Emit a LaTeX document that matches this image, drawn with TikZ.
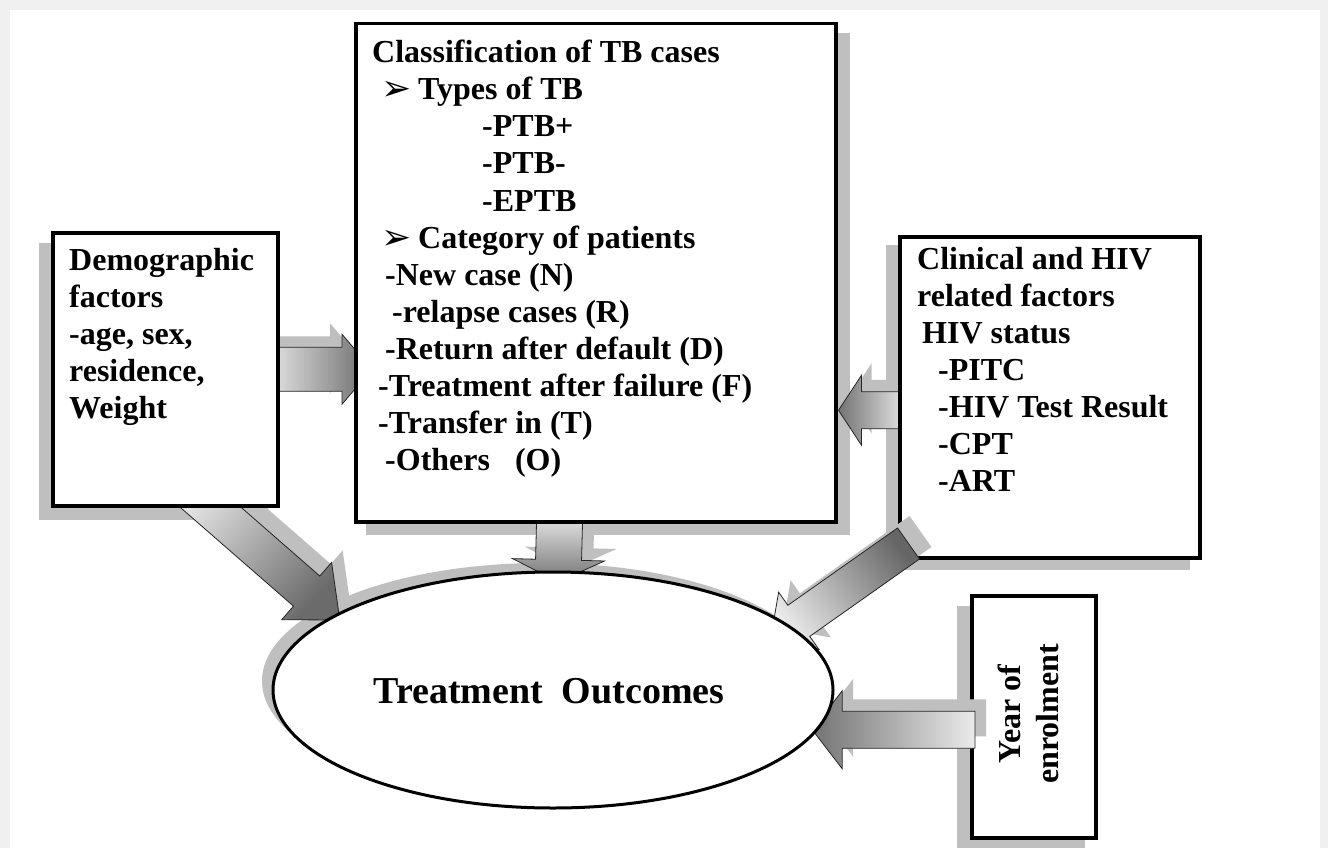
\documentclass[tikz,border=0pt]{standalone}
\usepackage{fontspec}
\setmainfont{Liberation Serif}
\newfontfamily\dejavu{DejaVu Sans}
\usetikzlibrary{calc,shapes.geometric}
\colorlet{shadowc}{black!25}
\tikzset{
  box/.style={draw=black, line width=3.5pt, fill=white, anchor=north west, inner sep=0pt},
  txt/.style={anchor=base west, inner sep=0pt, font=\bfseries\fontsize{32}{37}\selectfont},
  bul/.style={anchor=base west, inner sep=0pt, font=\dejavu\bfseries\fontsize{36}{38}\selectfont},
  arrowline/.style={draw=black!85, line width=0.8pt},
}
% #1 start, #2 tip, #3 half shaft, #4 half head, #5 head length, #6 shadow offset, #7 shading
\newcommand\blockarrow[7]{%
  \coordinate (bas) at ($(#1)+(#6)$);
  \coordinate (bae) at ($(#2)+(#6)$);
  \coordinate (bac) at ($(bae)!#5!(bas)$);
  \fill[shadowc] ($(bas)!#3!90:(bae)$) -- ($(bac)!#3!-90:(bas)$) -- ($(bac)!#4!-90:(bas)$) -- (bae) -- ($(bac)!#4!90:(bas)$) -- ($(bac)!#3!90:(bas)$) -- ($(bas)!#3!-90:(bae)$) -- cycle;
  \coordinate (bac) at ($(#2)!#5!(#1)$);
  \shadedraw[arrowline, #7] ($(#1)!#3!90:(#2)$) -- ($(bac)!#3!-90:(#1)$) -- ($(bac)!#4!-90:(#1)$) -- (#2) -- ($(bac)!#4!90:(#1)$) -- ($(bac)!#3!90:(#1)$) -- ($(#1)!#3!-90:(#2)$) -- cycle;
}
\begin{document}
\begin{tikzpicture}[x=1pt, y=-1pt]
\useasboundingbox (0,0) rectangle (1328,848);
\fill[black!6] (0,0) rectangle (1328,848);
\fill[white] (10,10) rectangle (1320,848);

% invisible geometry nodes first (to compute positions)
\path (354,22) node[box, draw=none, fill=none, minimum width=480pt, minimum height=498pt] (cls) {};
\path (51,231) node[box, draw=none, fill=none, minimum width=225pt, minimum height=273pt] (demo) {};
\path (898,235) node[box, draw=none, fill=none, minimum width=300pt, minimum height=321pt] (clin) {};
\path (970,594) node[box, draw=none, fill=none, minimum width=124pt, minimum height=242pt] (year) {};
\path (553,690) node[ellipse, inner sep=0pt, minimum width=560pt, minimum height=236pt] (out) {};

% box shadows
\fill[shadowc] ($(cls.north west)+(12,11)$) rectangle ($(cls.south east)+(12,11)$);
\fill[shadowc] ($(demo.north west)+(-12,12)$) rectangle ($(demo.south east)+(-12,12)$);
\fill[shadowc] ($(clin.north west)+(-12,10)$) rectangle ($(clin.south east)+(-12,10)$);
\fill[shadowc] ($(year.north west)+(-13,12)$) rectangle ($(year.south east)+(-13,12)$);
\node[ellipse, fill=shadowc, inner sep=0pt, minimum width=560pt, minimum height=236pt] (outsh) at ($(out.center)+(-11,-9)$) {};

% arrow end points
\coordinate (a1s) at ($(demo.east)+(-8,0)$);
\coordinate (a1e) at ($(cls.west |- a1s)+(18,0)$);
\coordinate (a2s) at ($(clin.west)+(7,13)$);
\coordinate (a2e) at ($(cls.east |- a2s)+(1,0)$);
\coordinate (a3s) at ($(cls.south)+(-36,-10)$);
\coordinate (a3e) at ($(out.north)+(5,10)$);
\coordinate (a4s) at ($(demo.south)+(21.5,-21)$);
\coordinate (a4e) at ($(out.west)+(67,-70)$);
\coordinate (a5s) at ($(clin.south west)+(10.5,-16)$);
\coordinate (a5e) at ($(out.east)+(-63,-49)$);
\coordinate (a6s) at ($(year.west)+(5,13)$);
\coordinate (a6e) at ($(out.east |- a6s)+(-21,0)$);

% arrows under the boxes
\blockarrow{a1s}{a1e}{22pt}{35pt}{30pt}{-12,-11}{left color=black!12, right color=black!58}
\blockarrow{a2s}{a2e}{18.5pt}{35pt}{23pt}{10,-12}{left color=black!55, right color=black!10}
\blockarrow{a3s}{a3e}{23pt}{46pt}{22pt}{12,-12}{top color=black!8, bottom color=black!55}
\blockarrow{a4s}{a4e}{20pt}{38pt}{44pt}{11,-12}{left color=black!10, right color=black!58, shading angle=48}

% boxes
\node[box, minimum width=480pt, minimum height=498pt] (clsb) at (cls.north west) {};
\node[box, minimum width=225pt, minimum height=273pt] (demob) at (demo.north west) {};
\node[box, minimum width=300pt, minimum height=321pt] (clinb) at (clin.north west) {};

% arrow over the clinical box
\blockarrow{a5s}{a5e}{19pt}{35pt}{35pt}{12,-12}{left color=black!8, right color=black!60, shading angle=126}

\node[box, minimum width=124pt, minimum height=242pt] (yearb) at (year.north west) {};
\blockarrow{a6s}{a6e}{18.5pt}{39pt}{30pt}{11,-12}{left color=black!55, right color=black!8}

% ellipse
\node[ellipse, draw=black, line width=3pt, fill=white, inner sep=0pt, minimum width=560pt, minimum height=236pt] (outb) at (out.center) {};
\node[anchor=base, inner sep=0pt, font=\bfseries\fontsize{38}{44}\selectfont] (outt) at (549,703) {Treatment\ \ Outcomes};

% texts of classification box
\node[txt] (c1) at (372,63) {Classification of TB cases};
\node[bul] (b1) at (381,101) {➢};
\node[txt] (c2) at (418,100) {Types of TB};
\node[txt] (c3) at (482,137) {-PTB+};
\node[txt] (c4) at (482,174) {-PTB-};
\node[txt] (c5) at (482,211) {-EPTB};
\node[bul] (b2) at (381,249) {➢};
\node[txt] (c6) at (418,248) {Category of patients};
\node[txt] (c7) at (385,285) {-New case (N)};
\node[txt] (c8) at (392,322) {-relapse cases (R)};
\node[txt] (c9) at (385,359) {-Return after default (D)};
\node[txt] (c10) at (378,396) {-Treatment after failure (F)};
\node[txt] (c11) at (378,433) {-Transfer in (T)};
\node[txt] (c12) at (385,470) {-Others\hspace{25pt}(O)};

% demographic box
\node[txt] (d1) at (69,270) {Demographic};
\node[txt] (d2) at (69,307) {factors};
\node[txt] (d3) at (69,344) {-age, sex,};
\node[txt] (d4) at (69,381) {residence,};
\node[txt] (d5) at (69,418) {Weight};

% clinical box
\node[txt] (h1) at (917,269) {Clinical and HIV};
\node[txt] (h2) at (917,306) {related factors};
\node[txt] (h3) at (922,343) {HIV status};
\node[txt] (h4) at (938,380) {-PITC};
\node[txt] (h5) at (938,417) {-HIV Test Result};
\node[txt] (h6) at (938,454) {-CPT};
\node[txt] (h7) at (938,491) {-ART};

% year box
\node[anchor=base, inner sep=0pt, rotate=90, font=\bfseries\fontsize{32}{37}\selectfont] (y1) at (1020,714) {Year of};
\node[anchor=base, inner sep=0pt, rotate=90, font=\bfseries\fontsize{32}{37}\selectfont] (y2) at (1058,714) {enrolment};
\end{tikzpicture}
\end{document}
